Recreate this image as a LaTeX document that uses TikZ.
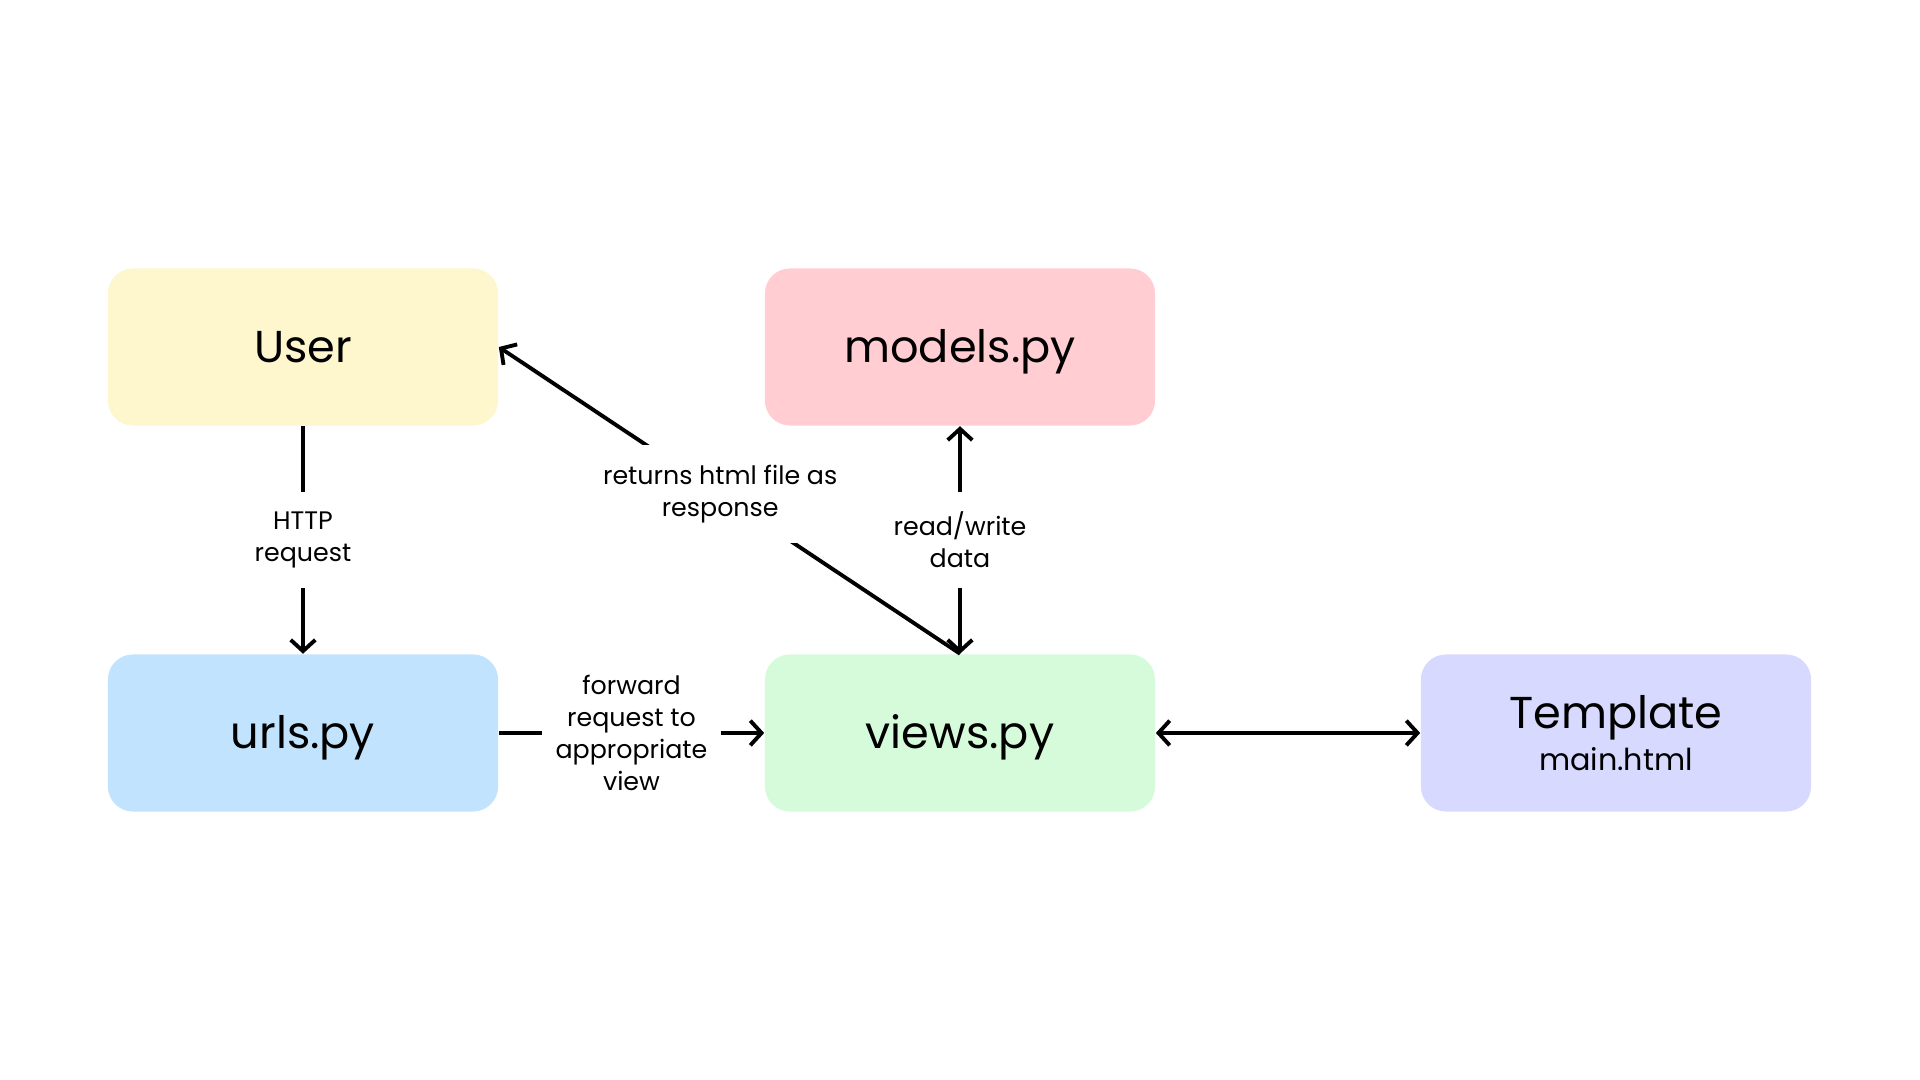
\documentclass[tikz,border=0pt]{standalone}
\usepackage{fontspec}
\setmainfont{Poppins}
\usetikzlibrary{arrows.meta, positioning}
\definecolor{UserFill}{RGB}{254,246,205}
\definecolor{ModelsFill}{RGB}{255,205,210}
\definecolor{UrlsFill}{RGB}{194,227,253}
\definecolor{ViewsFill}{RGB}{213,251,218}
\definecolor{TmplFill}{RGB}{216,217,254}

\begin{document}
\begin{tikzpicture}[
        x=0.01cm, y=-0.01cm,
        box/.style={rectangle, rounded corners=0.25cm, draw=none,
                    minimum width=3.9cm, minimum height=1.57cm,
                    align=center, font=\fontsize{12.7}{14}\selectfont},
        oneline/.style={text height=0.32cm, text depth=0pt},
        lbl/.style={fill=white, align=center, inner xsep=0.14cm, inner ysep=0.2cm,
                    font=\fontsize{7.2}{9.1}\selectfont},
        arr/.style={draw=black, line width=1.1pt,
                    -{Straight Barb[length=3.2pt, width=7pt]}},
        darr/.style={draw=black, line width=1.1pt,
                     {Straight Barb[length=3.2pt, width=7pt]}-{Straight Barb[length=3.2pt, width=7pt]}}
      ]
        \useasboundingbox (0,0) rectangle (1920,1080);
        \node[box, oneline, fill=UserFill]   (user)   at (303,347)  {User};
        \node[box, oneline, fill=ModelsFill] (models) at (960,347)  {models.py};
        \node[box, oneline, fill=UrlsFill]   (urls)   at (303,733)  {urls.py};
        \node[box, oneline, fill=ViewsFill]  (views)  at (960,733)  {views.py};
        \node[box, fill=TmplFill]   (tmpl)   at (1616,733)
          {Template\\[-2pt]{\fontsize{8.6}{10}\selectfont main.html}};
        \draw[arr] (user) -- node[lbl]{HTTP\\request} (urls);
        \draw[arr] (urls) -- node[lbl]{forward\\request to\\appropriate\\view} (views);
        \draw[darr] (views) -- node[lbl]{read/write\\data} (models);
        \draw[arr] (views.north) -- node[lbl, pos=0.52]{returns html file as\\response} (user.east);
        \draw[darr] (views) -- (tmpl);
      \end{tikzpicture}
\end{document}
